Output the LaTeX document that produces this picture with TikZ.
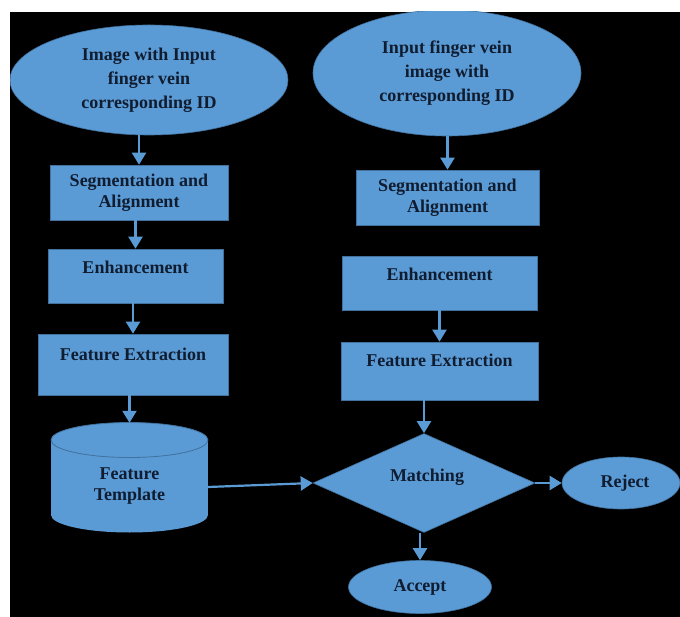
\documentclass[tikz,border=0pt]{standalone}
\usepackage{fontspec}
\setmainfont{Liberation Serif}
\usetikzlibrary{shapes.geometric,arrows.meta}
\definecolor{fillblue}{RGB}{91,155,213}
\definecolor{edgeblue}{RGB}{65,113,156}
\definecolor{txtnavy}{RGB}{16,28,48}
\begin{document}
\begin{tikzpicture}[x=1pt,y=-1pt,
  shp/.style={fill=fillblue, draw=edgeblue, line width=0.6pt, inner sep=0pt},
  boxn/.style={shp, rectangle},
  elln/.style={shp, ellipse},
  diam/.style={shp, diamond},
  txt/.style={font=\fontsize{18}{21}\selectfont\bfseries, text=txtnavy, align=center},
  etxt/.style={font=\fontsize{18}{24}\selectfont\bfseries, text=txtnavy, align=center},
  arr/.style={draw=fillblue, line width=2.2pt, -{Triangle[width=14pt,length=12pt]}}
]
\useasboundingbox (0,0) rectangle (680,617);
\fill[white] (0,0) rectangle (680,617);
\fill[black] (10,12) rectangle (680,617);
\begin{scope}
\clip (10,12) rectangle (680,617);

% left column
\node[elln, etxt, minimum width=278pt, minimum height=110pt] (lell) at (149,80)
  {Image with Input\\finger vein\\corresponding ID};
\node[boxn, txt, minimum width=178pt, minimum height=55pt] (lseg) at (139,192.5)
  {Segmentation and\\Alignment};
\node[boxn, minimum width=175pt, minimum height=54pt] (lenh) at (135.5,276) {};
\node[txt] (lenht) at (135.5,267) {Enhancement};
\node[boxn, minimum width=190pt, minimum height=61pt] (lfe) at (133,364.5) {};
\node[txt] (lfet) at (133,354) {Feature Extraction};

% cylinder (Feature Template)
\node[inner sep=0pt, minimum width=157pt, minimum height=110pt] (lcyl) at (129.5,478) {};
\fill[fillblue] (129.5,515) ellipse[x radius=78.5, y radius=17.5];
\fill[fillblue] (51,440) rectangle (208,515);
\filldraw[fill=fillblue, draw=edgeblue, line width=0.8pt] (129.5,440) ellipse[x radius=78.5, y radius=17.5];
\node[txt] (lcylt) at (129.5,486.5) {Feature\\Template};

% right column
\node[elln, etxt, minimum width=268pt, minimum height=126pt] (rell) at (447,73)
  {Input finger vein\\image with\\corresponding ID};
\node[boxn, txt, minimum width=183pt, minimum height=55pt] (rseg) at (447.5,197.5)
  {Segmentation and\\Alignment};
\node[boxn, minimum width=195pt, minimum height=54pt] (renh) at (439.5,283) {};
\node[txt] (renht) at (439.5,274) {Enhancement};
\node[boxn, minimum width=197pt, minimum height=58pt] (rfe) at (439.5,371) {};
\node[txt] (rfet) at (439.5,360) {Feature Extraction};

\node[diam, minimum width=222pt, minimum height=99pt] (dia) at (424,483) {};
\node[txt] (diat) at (427,477) {Matching};

\node[elln, minimum width=118pt, minimum height=52pt] (rej) at (621,483) {};
\node[txt] (rejt) at (625,483) {Reject};
\node[elln, txt, minimum width=143pt, minimum height=53pt] (acc) at (420,587) {Accept};

% connectors
\draw[arr] (lell.south -| lseg.north) -- (lseg.north);
\draw[arr] (lenh.north |- lseg.south) -- (lenh.north);
\draw[arr] (lfe.north |- lenh.south) -- (lfe.north);
\draw[arr] (lcyl.north |- lfe.south) -- (lcyl.north);
\draw[arr] (rseg.north |- rell.south) -- (rseg.north);
\draw[arr] (rfe.north |- renh.south) -- (rfe.north);
\draw[arr] (dia.north |- rfe.south) -- (dia.north);
\draw[arr] ([yshift=-9pt]lcyl.east) -- (dia.west);
\draw[arr] (dia.east) -- (rej.west);
\draw[arr] (acc.north |- dia.south) -- (acc.north);
\end{scope}
\end{tikzpicture}
\end{document}
